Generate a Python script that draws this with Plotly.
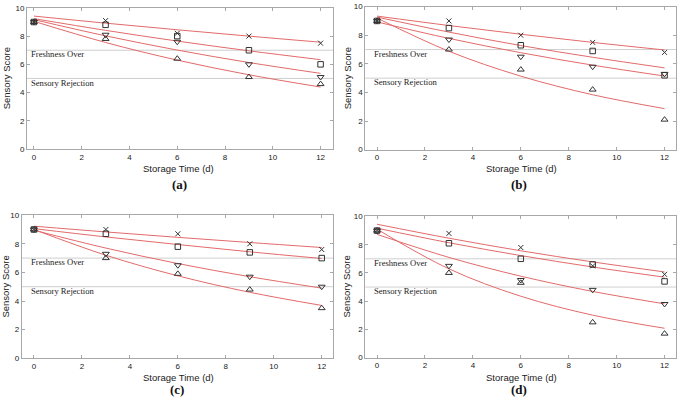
import plotly.graph_objects as go

# ---------------- data ----------------
days = [0, 3, 6, 9, 12]
panel_labels = ["(a)", "(b)", "(c)", "(d)"]
threshold_values = [7, 5]
threshold_texts = ["Freshness Over", "Sensory Rejection"]
x_ticks = [0, 2, 4, 6, 8, 10, 12]
y_ticks = [0, 2, 4, 6, 8, 10]

# observed scores, series order: cross, square, triangle-down, triangle-up
a_cross = [9.0, 9.1, 8.2, 8.0, 7.5]
a_square = [9.0, 8.8, 8.0, 7.0, 6.0]
a_tdown = [9.0, 8.1, 7.6, 6.0, 5.1]
a_tup = [9.0, 7.8, 6.4, 5.1, 4.6]

b_cross = [9.0, 9.0, 8.0, 7.5, 6.8]
b_square = [9.0, 8.5, 7.3, 6.9, 5.2]
b_tdown = [9.0, 7.7, 6.5, 5.8, 5.3]
b_tup = [9.0, 7.0, 5.6, 4.2, 2.1]

c_cross = [9.0, 9.0, 8.7, 8.0, 7.6]
c_square = [9.0, 8.7, 7.8, 7.4, 7.0]
c_tdown = [9.0, 7.3, 6.5, 5.7, 5.0]
c_tup = [9.0, 7.0, 5.9, 4.8, 3.5]

d_cross = [9.0, 8.8, 7.8, 6.5, 5.9]
d_square = [9.0, 8.1, 7.0, 6.6, 5.4]
d_tdown = [9.0, 6.5, 5.5, 4.8, 3.8]
d_tup = [9.0, 6.0, 5.3, 2.5, 1.7]

# fitted curves, values at the same days
a_fit_cross = [9.42, 8.92, 8.45, 8.00, 7.57]
a_fit_square = [9.24, 8.41, 7.65, 6.96, 6.33]
a_fit_tdown = [9.17, 8.02, 7.01, 6.13, 5.36]
a_fit_tup = [9.05, 7.55, 6.30, 5.26, 4.39]

b_fit_cross = [9.34, 8.68, 8.07, 7.50, 6.97]
b_fit_square = [9.27, 8.22, 7.28, 6.46, 5.72]
b_fit_tdown = [8.93, 7.78, 6.78, 5.91, 5.15]
b_fit_tup = [9.20, 6.88, 5.14, 3.84, 2.87]

c_fit_cross = [9.23, 8.83, 8.45, 8.09, 7.74]
c_fit_square = [9.06, 8.48, 7.95, 7.44, 6.97]
c_fit_tdown = [8.95, 7.70, 6.62, 5.70, 4.90]
c_fit_tup = [9.00, 7.20, 5.76, 4.61, 3.69]

d_fit_cross = [9.45, 8.46, 7.57, 6.78, 6.07]
d_fit_square = [9.17, 8.14, 7.23, 6.42, 5.70]
d_fit_tdown = [8.73, 7.10, 5.77, 4.69, 3.81]
d_fit_tup = [9.10, 6.29, 4.35, 3.01, 2.08]

panels = [
    ([a_cross, a_square, a_tdown, a_tup], [a_fit_cross, a_fit_square, a_fit_tdown, a_fit_tup]),
    ([b_cross, b_square, b_tdown, b_tup], [b_fit_cross, b_fit_square, b_fit_tdown, b_fit_tup]),
    ([c_cross, c_square, c_tdown, c_tup], [c_fit_cross, c_fit_square, c_fit_tdown, c_fit_tup]),
    ([d_cross, d_square, d_tdown, d_tup], [d_fit_cross, d_fit_square, d_fit_tdown, d_fit_tup]),
]

# ---------------- styling / layout ----------------
W, H = 677, 404
symbols = ["x-thin-open", "square-open", "triangle-down-open", "triangle-up-open"]
sizes = [5, 5.5, 6, 6]
marker_color = "#333333"
fit_color = "#e36a6a"
frame_color = "#a8a8a8"

# plot boxes in pixels: left, right, top, bottom
boxes = [
    (27.0, 333.0, 4.0, 148.3),
    (365.3, 676.3, 2.7, 149.0),
    (21.7, 333.0, 216.0, 362.3),
    (365.3, 676.3, 217.3, 361.7),
]
x_ranges = [[-0.29, 12.52], [-0.49, 12.49], [-0.51, 12.47], [-0.49, 12.49]]

fig = go.Figure()
for i, (obs, fits) in enumerate(panels):
    k = "" if i == 0 else str(i + 1)
    for fit in fits:
        fig.add_trace(go.Scatter(
            x=days, y=fit, mode="lines", xaxis="x" + k, yaxis="y" + k,
            line=dict(color=fit_color, width=1, shape="spline", smoothing=1.0),
            hoverinfo="skip"))
    for s, series in enumerate(obs):
        fig.add_trace(go.Scatter(
            x=days, y=series, mode="markers", xaxis="x" + k, yaxis="y" + k,
            marker=dict(symbol=symbols[s], size=sizes[s], color=marker_color,
                        line=dict(color=marker_color, width=1))))

axis_common = dict(
    showline=True, linecolor=frame_color, linewidth=1, mirror="ticks",
    ticks="inside", ticklen=3, tickcolor=frame_color, tickwidth=1,
    showgrid=False, zeroline=False,
    tickfont=dict(family="Liberation Sans, Arial, sans-serif", size=8, color="#222222"),
)

layout = dict(
    width=W, height=H, margin=dict(l=0, r=0, t=0, b=0),
    paper_bgcolor="white", plot_bgcolor="white", showlegend=False,
)
annotations = []
shapes = []
sans = "Liberation Sans, Arial, sans-serif"
serif = "Liberation Serif, Times New Roman, serif"

title_pos = [
    # (x-title center x,y), (y-title center x,y), (label x,y)
    ((178, 168), (6, 76), (179, 185)),
    ((521, 168), (347, 76), (519, 185)),
    ((178, 382), (6, 289), (177, 394)),
    ((521, 382), (347, 289), (519, 394)),
]

for i, (l, r, t, b) in enumerate(boxes):
    k = "" if i == 0 else str(i + 1)
    xa = dict(axis_common, domain=[l / W, r / W], range=x_ranges[i], tickvals=x_ticks,
              anchor="y" + k)
    ya = dict(axis_common, domain=[1 - b / H, 1 - t / H], range=[0, 10], tickvals=y_ticks,
              anchor="x" + k)
    layout["xaxis" + k] = xa
    layout["yaxis" + k] = ya

    for v, txt in zip(threshold_values, threshold_texts):
        shapes.append(dict(type="line", xref="x" + k + " domain", x0=0, x1=1,
                           yref="y" + k, y0=v, y1=v,
                           line=dict(color="#cfcfcf", width=1), layer="below"))
        annotations.append(dict(x=-0.2, y=v - 0.3, xref="x" + k, yref="y" + k,
                                text=txt, showarrow=False, xanchor="left", yanchor="middle",
                                font=dict(family=serif, size=8.6, color="#222222")))

    (xtx, xty), (ytx, yty), (lx, ly) = title_pos[i]
    annotations.append(dict(x=xtx / W, y=1 - xty / H, xref="paper", yref="paper",
                            text="Storage Time (d)", showarrow=False,
                            xanchor="center", yanchor="middle",
                            font=dict(family=sans, size=9.5, color="#222222")))
    annotations.append(dict(x=ytx / W, y=1 - yty / H, xref="paper", yref="paper",
                            text="Sensory Score", showarrow=False, textangle=-90,
                            xanchor="center", yanchor="middle",
                            font=dict(family=sans, size=9.5, color="#222222")))
    annotations.append(dict(x=lx / W, y=1 - ly / H, xref="paper", yref="paper",
                            text="<b>" + panel_labels[i] + "</b>", showarrow=False,
                            xanchor="center", yanchor="middle",
                            font=dict(family=serif, size=13, color="#111111")))

layout["annotations"] = annotations
layout["shapes"] = shapes
fig.update_layout(**layout)
fig.write_html("out.html", config={"displayModeBar": False},
               post_script="document.body.style.margin='0';")
